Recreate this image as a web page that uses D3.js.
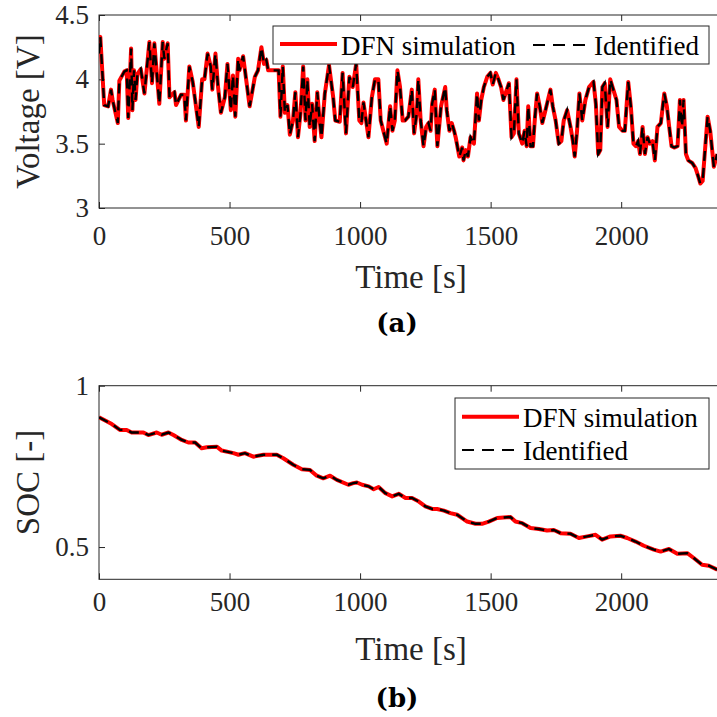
<!DOCTYPE html>
<html>
<head>
<meta charset="utf-8">
<script src="https://cdn.jsdelivr.net/npm/d3@7"></script>
<style>
  body { margin: 0; background: #fff; }
  svg { display: block; }
</style>
</head>
<body>
<svg width="717" height="717"></svg>
<script>
"use strict";

// time [s] and voltage [V]
const voltTime = [0, 5, 20, 35, 46, 52, 72, 78, 97, 106, 112, 123, 128, 134, 140, 147, 160, 174, 193, 203,
    212, 231, 244, 250, 263, 270, 289, 295, 314, 327, 333, 346, 359, 382, 395, 404, 416, 428, 434, 446,
    456, 467, 482, 492, 505, 513, 522, 533, 538, 552, 577, 597, 609, 622, 632, 641, 648, 688, 695, 704,
    712, 722, 731, 743, 752, 762, 772, 782, 791, 798, 807, 816, 826, 836, 845, 852, 865, 881, 897, 905,
    922, 933, 946, 959, 972, 985, 997, 1005, 1013, 1032, 1045, 1057, 1070, 1079, 1089, 1102, 1115, 1124, 1133, 1143,
    1153, 1163, 1172, 1185, 1198, 1207, 1217, 1223, 1232, 1243, 1253, 1262, 1270, 1276, 1286, 1296, 1310, 1326, 1332, 1342,
    1351, 1360, 1366, 1380, 1391, 1396, 1405, 1413, 1423, 1436, 1448, 1455, 1464, 1474, 1487, 1499, 1508, 1520, 1530, 1540,
    1549, 1570, 1580, 1589, 1599, 1608, 1621, 1630, 1638, 1644, 1653, 1662, 1670, 1678, 1688, 1698, 1710, 1729, 1738, 1749,
    1761, 1771, 1780, 1793, 1806, 1815, 1822, 1831, 1840, 1851, 1863, 1877, 1894, 1903, 1912, 1920, 1928, 1937, 1948, 1958,
    1967, 1982, 1992, 2005, 2014, 2027, 2037, 2047, 2056, 2065, 2072, 2082, 2091, 2101, 2110, 2120, 2129, 2139, 2152, 2165,
    2175, 2184, 2193, 2203, 2216, 2225, 2233, 2239, 2248, 2257, 2272, 2285, 2296, 2303, 2312, 2320, 2331, 2341, 2350, 2355, 2368];
const voltValue = [4.20, 4.33, 3.80, 3.79, 3.92, 3.84, 3.66, 3.99, 4.06, 4.07, 3.70, 4.24, 3.76, 4.07, 3.84, 4.04, 4.08, 3.89, 4.29, 3.97,
    4.28, 3.81, 4.29, 4.16, 4.28, 3.86, 3.90, 3.80, 3.88, 3.88, 3.68, 4.10, 3.98, 3.63, 4.00, 4.00, 4.20, 4.10, 3.92, 4.20,
    3.94, 3.74, 3.86, 4.12, 3.76, 4.03, 3.71, 4.16, 4.07, 4.18, 3.79, 4.02, 4.07, 4.25, 4.12, 4.15, 4.07, 4.07, 3.71, 4.10,
    3.74, 3.80, 3.57, 3.68, 3.90, 3.55, 3.74, 4.10, 3.68, 4.00, 3.63, 3.81, 3.52, 3.90, 3.68, 3.55, 3.89, 4.11, 3.86, 3.68,
    3.67, 4.05, 3.58, 4.02, 3.94, 4.12, 3.68, 3.66, 3.82, 3.55, 3.86, 4.00, 4.00, 3.68, 3.60, 3.50, 3.79, 3.60, 3.68, 4.07,
    3.94, 3.68, 3.68, 3.71, 3.92, 3.58, 3.74, 4.00, 3.68, 3.48, 3.63, 3.66, 3.60, 3.81, 3.92, 3.48, 3.79, 3.94, 3.76, 3.60,
    3.66, 3.60, 3.55, 3.40, 3.47, 3.37, 3.45, 3.40, 3.55, 3.50, 3.89, 3.68, 3.84, 3.94, 4.02, 4.05, 3.96, 4.05, 4.00, 3.94,
    3.84, 3.97, 3.55, 3.58, 4.00, 3.58, 3.50, 3.60, 3.48, 3.79, 3.48, 3.48, 3.71, 3.89, 3.79, 3.66, 3.76, 3.92, 3.79, 3.68,
    3.50, 3.52, 3.68, 3.76, 3.63, 3.52, 3.40, 3.60, 3.89, 3.68, 3.84, 3.94, 3.98, 3.81, 3.42, 3.45, 3.94, 3.97, 3.63, 4.00,
    3.94, 3.84, 3.63, 3.60, 3.60, 3.98, 3.79, 3.50, 3.48, 3.52, 3.42, 3.63, 3.42, 3.55, 3.50, 3.52, 3.37, 3.63, 3.66, 3.89,
    3.79, 3.63, 3.48, 3.47, 3.48, 3.84, 3.63, 3.84, 3.42, 3.37, 3.35, 3.31, 3.24, 3.19, 3.21, 3.42, 3.71, 3.60, 3.42, 3.32, 3.42];

// time [s] and state of charge [-]
const socTime = [0, 49, 80, 106, 125, 170, 189, 221, 240, 266, 285, 317, 342, 368, 393, 413, 451, 470, 515, 534,
    559, 591, 630, 681, 706, 744, 777, 808, 834, 859, 885, 911, 955, 974, 988, 1008, 1033, 1052, 1071, 1097,
    1123, 1148, 1174, 1199, 1225, 1250, 1276, 1295, 1321, 1346, 1372, 1410, 1442, 1467, 1493, 1525, 1576, 1595, 1621, 1653,
    1685, 1716, 1742, 1768, 1806, 1838, 1870, 1902, 1927, 1959, 1997, 2023, 2055, 2087, 2125, 2151, 2183, 2215, 2253, 2278,
    2310, 2336, 2368];
const socValue = [0.902, 0.881, 0.863, 0.863, 0.855, 0.855, 0.847, 0.855, 0.848, 0.855, 0.847, 0.832, 0.824, 0.824, 0.806, 0.809, 0.811, 0.799, 0.791, 0.786,
    0.791, 0.780, 0.786, 0.786, 0.775, 0.755, 0.741, 0.739, 0.721, 0.713, 0.721, 0.708, 0.693, 0.698, 0.700, 0.693, 0.688, 0.679, 0.686, 0.667,
    0.657, 0.665, 0.652, 0.652, 0.641, 0.626, 0.618, 0.618, 0.613, 0.605, 0.600, 0.579, 0.572, 0.572, 0.579, 0.590, 0.593, 0.579, 0.574, 0.559,
    0.556, 0.551, 0.553, 0.543, 0.541, 0.528, 0.533, 0.538, 0.523, 0.533, 0.535, 0.528, 0.517, 0.504, 0.492, 0.486, 0.494, 0.479, 0.481, 0.466,
    0.445, 0.442, 0.430];

const timeTicks = [0, 500, 1000, 1500, 2000];
const voltTicks = [3, 3.5, 4, 4.5];
const socTicks = [0.5, 1];
const seriesNames = ['DFN simulation', 'Identified'];

const serif = '"Liberation Serif", "Times New Roman", serif';
const axisColor = '#262626';
const left = 99, right = 723;

const svg = d3.select('svg');
svg.append('rect').attr('width', 717).attr('height', 717).attr('fill', '#fff');

function drawPanel(opts) {
    const x = d3.scaleLinear().domain([0, 2390]).range([left, right]);
    const y = d3.scaleLinear().domain(opts.yDomain).range([opts.bottom, opts.top]);
    const g = svg.append('g');
    const clipId = 'clip-' + opts.id;

    g.append('clipPath').attr('id', clipId)
        .append('rect')
        .attr('x', left).attr('y', opts.top)
        .attr('width', right - left).attr('height', opts.bottom - opts.top);

    // ticks point inward, box on
    g.append('g')
        .attr('transform', `translate(0,${opts.bottom})`)
        .call(d3.axisBottom(x).tickValues(timeTicks).tickSize(-6).tickPadding(opts.xPad).tickSizeOuter(0)
            .tickFormat(d3.format('d')));
    g.append('g')
        .attr('transform', `translate(0,${opts.top})`)
        .call(d3.axisTop(x).tickValues(timeTicks).tickSize(-6).tickFormat('').tickSizeOuter(0));
    g.append('g')
        .attr('transform', `translate(${left},0)`)
        .call(d3.axisLeft(y).tickValues(opts.yTicks).tickSize(-6).tickPadding(10).tickSizeOuter(0)
            .tickFormat(d => String(d)));
    g.append('g')
        .attr('transform', `translate(${right},0)`)
        .call(d3.axisRight(y).tickValues(opts.yTicks).tickSize(-6).tickFormat('').tickSizeOuter(0));

    g.selectAll('.domain').remove();
    g.selectAll('.tick line').attr('stroke', axisColor).attr('stroke-width', 1);
    g.selectAll('.tick text')
        .style('font-family', serif)
        .style('font-size', '27px')
        .attr('fill', axisColor);

    g.append('rect')
        .attr('x', left).attr('y', opts.top)
        .attr('width', right - left).attr('height', opts.bottom - opts.top)
        .attr('fill', 'none').attr('stroke', axisColor).attr('stroke-width', 1);

    const pts = d3.zip(opts.time, opts.values);
    const line = d3.line().x(d => x(d[0])).y(d => y(d[1]));

    const plot = g.append('g').attr('clip-path', `url(#${clipId})`);
    plot.append('path')
        .datum(pts)
        .attr('d', line)
        .attr('fill', 'none')
        .attr('stroke', '#ff0000')
        .attr('stroke-width', 4)
        .attr('stroke-linejoin', 'round');
    plot.append('path')
        .datum(pts)
        .attr('d', line)
        .attr('fill', 'none')
        .attr('stroke', '#000')
        .attr('stroke-width', 2.4)
        .attr('stroke-dasharray', '10,7');

    // axis labels
    g.append('text')
        .attr('x', (left + right) / 2).attr('y', opts.xLabelY)
        .attr('text-anchor', 'middle')
        .style('font-family', serif).style('font-size', '33px')
        .attr('fill', axisColor)
        .text('Time [s]');
    g.append('text')
        .attr('transform', `translate(38.5,${(opts.top + opts.bottom) / 2}) rotate(-90)`)
        .attr('text-anchor', 'middle')
        .style('font-family', serif).style('font-size', '33px')
        .attr('fill', axisColor)
        .text(opts.yLabel);
    g.append('text')
        .attr('x', 397).attr('y', opts.tagY)
        .attr('text-anchor', 'middle')
        .style('font-family', '"DejaVu Serif", serif')
        .style('font-weight', 'bold')
        .style('font-size', '26px')
        .attr('fill', '#000')
        .text(opts.tag);

    // legend
    const lg = g.append('g');
    const L = opts.legend;
    lg.append('rect')
        .attr('x', L.x0).attr('y', L.y0)
        .attr('width', L.x1 - L.x0).attr('height', L.y1 - L.y0)
        .attr('fill', '#fff').attr('stroke', axisColor).attr('stroke-width', 1);
    L.items.forEach((it, i) => {
        lg.append('line')
            .attr('x1', it.lx).attr('x2', it.lx + 57)
            .attr('y1', it.ly).attr('y2', it.ly)
            .attr('stroke', i === 0 ? '#ff0000' : '#000')
            .attr('stroke-width', i === 0 ? 4 : 2)
            .attr('stroke-dasharray', i === 0 ? null : '12,8');
        lg.append('text')
            .attr('x', it.lx + 61).attr('y', it.ty)
            .style('font-family', serif).style('font-size', '27px')
            .attr('fill', '#000')
            .text(seriesNames[i]);
    });
}

drawPanel({
    id: 'a', top: 15, bottom: 208, yDomain: [3, 4.5], yTicks: voltTicks,
    time: voltTime, values: voltValue, xPad: 18, xLabelY: 288, tagY: 332, tag: '(a)',
    yLabel: 'Voltage [V]',
    legend: {
        x0: 273, y0: 26, x1: 709, y1: 64,
        items: [{lx: 280, ly: 44, ty: 55}, {lx: 533, ly: 45, ty: 55}]
    }
});

drawPanel({
    id: 'b', top: 385.7, bottom: 579.3, yDomain: [0.4, 1], yTicks: socTicks,
    time: socTime, values: socValue, xPad: 13, xLabelY: 660, tagY: 707, tag: '(b)',
    yLabel: 'SOC [-]',
    legend: {
        x0: 455, y0: 398, x1: 709, y1: 469,
        items: [{lx: 462, ly: 416.7, ty: 427}, {lx: 462, ly: 450, ty: 460}]
    }
});
</script>
</body>
</html>
